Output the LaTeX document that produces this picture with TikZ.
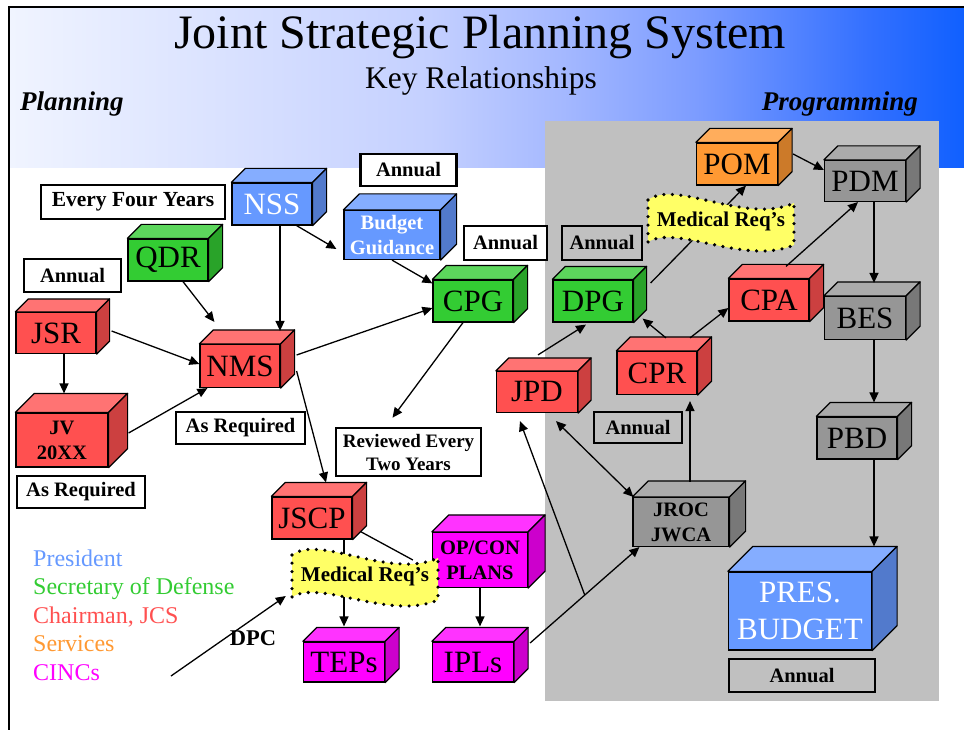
\documentclass[tikz,border=0pt]{standalone}
\usepackage{fontspec}
\setmainfont{Liberation Serif}
\usetikzlibrary{arrows.meta}

\definecolor{redF}{HTML}{FF5050}\definecolor{redT}{HTML}{FF7373}\definecolor{redS}{HTML}{CC4040}
\definecolor{bluF}{HTML}{6699FF}\definecolor{bluT}{HTML}{85ADFF}\definecolor{bluS}{HTML}{527ACC}
\definecolor{grnF}{HTML}{33CC33}\definecolor{grnT}{HTML}{5CD65C}\definecolor{grnS}{HTML}{29A329}
\definecolor{orgF}{HTML}{FF9933}\definecolor{orgT}{HTML}{FFAD5C}\definecolor{orgS}{HTML}{CC7A29}
\definecolor{gryF}{HTML}{969696}\definecolor{gryT}{HTML}{ABABAB}\definecolor{gryS}{HTML}{787878}
\definecolor{magF}{HTML}{FF00FF}\definecolor{magT}{HTML}{FF33FF}\definecolor{magS}{HTML}{CC00CC}
\definecolor{panel}{HTML}{C0C0C0}
\definecolor{medfill}{HTML}{FFFF66}
\definecolor{bandA}{HTML}{F0F4FF}\definecolor{bandB}{HTML}{C4D0FF}\definecolor{bandC}{HTML}{A4B8FF}
\definecolor{bandD}{HTML}{7C9CFF}\definecolor{bandE}{HTML}{3370FF}\definecolor{bandF}{HTML}{1060FF}

\pgfdeclarehorizontalshading{band}{100bp}{color(0bp)=(bandA); color(25bp)=(bandA);
  color(47bp)=(bandB); color(54bp)=(bandC); color(61bp)=(bandD); color(70bp)=(bandE);
  color(75bp)=(bandF); color(100bp)=(bandF)}

% top and side faces of a box: node, depth, colour family
\newcommand\cubesides[3]{%
  \filldraw[fill=#3T, line width=1.2pt, line join=round] (#1.north west) -- ++(#2,-#2)
    -- ([shift={(#2,-#2)}]#1.north east) -- (#1.north east) -- cycle;
  \filldraw[fill=#3S, line width=1.2pt, line join=round] (#1.north east) -- ++(#2,-#2)
    -- ([shift={(#2,-#2)}]#1.south east) -- (#1.south east) -- cycle;}

% dotted wave behind the medical tags
\newcommand\medwave[1]{%
  \begin{scope}[shift={(#1)}]
    \filldraw[medline] (-73,-21) .. controls (-45,-42) and (25,4) .. (73,-18)
      -- (73,24) .. controls (25,45) and (-45,3) .. (-73,21) -- cycle;
  \end{scope}}

\begin{document}
\begin{tikzpicture}[x=1pt, y=-1pt,
  cubebase/.style={draw, line width=1.2pt, inner sep=0pt, align=center,
                   font=\fontsize{31}{37}\selectfont},
  cube/.style n args={3}{cubebase, minimum width=#1, minimum height=#2, fill=#3F},
  small/.style={font=\bfseries\fontsize{20.5}{25}\selectfont},
  tag/.style 2 args={draw, line width=2.6pt, fill=white, inner sep=0pt, align=center,
                     minimum width=#1, minimum height=#2,
                     font=\bfseries\fontsize{20.5}{23}\selectfont},
  arr/.style={line width=1.3pt, -{Triangle[length=10pt,width=9pt]}},
  arrs/.style={line width=1.3pt, {Triangle[length=10pt,width=9pt]}-{Triangle[length=10pt,width=9pt]}},
  medline/.style={fill=medfill, draw=black, line width=3.6pt, line cap=round,
                  dash pattern=on 0pt off 8.5pt},
  medtext/.style={inner sep=0pt, minimum width=146, minimum height=44,
                  font=\bfseries\fontsize{21}{24}\selectfont},
  legend/.style={anchor=base west, inner sep=0pt, font=\fontsize{24}{24}\selectfont}
]
\useasboundingbox (0,0) rectangle (964,730);

% background
\shade[shading=band] (10,8) rectangle (964,168);
\fill[panel] (545,121) rectangle (939,701);
\draw[line width=1.5pt] (9,730) -- (9,7) -- (964,7);

\node[anchor=base, inner sep=0pt, font=\fontsize{48}{48}\selectfont] (title) at (480,49)
  {Joint Strategic Planning System};
\node[anchor=base, inner sep=0pt, font=\fontsize{31.5}{31.5}\selectfont] (subtitle) at (481,89)
  {Key Relationships};
\node[anchor=base west, inner sep=0pt, font=\bfseries\itshape\fontsize{27}{27}\selectfont]
  (plan) at (20,111) {Planning};
\node[anchor=base east, inner sep=0pt, font=\bfseries\itshape\fontsize{27}{27}\selectfont]
  (prog) at (918,111) {Programming};

% boxes
\node[cube={80}{42}{blu}, text=white] (nss) at (272,204) {NSS};
\cubesides{nss}{14}{blu}
\node[cube={80}{42}{grn}] (qdr) at (168,260) {QDR};
\cubesides{qdr}{14}{grn}
\node[cube={80}{41}{red}] (jsr) at (56,333) {JSR};
\cubesides{jsr}{13}{red}
\node[cube={80}{43}{red}] (nms) at (240,366) {NMS};
\cubesides{nms}{14}{red}
\node[cube={92}{54}{red}, small] (jv) at (62,440) {JV\\20XX};
\cubesides{jv}{19}{red}
\node[cube={96}{49}{blu}, small, text=white] (budget) at (392,235) {Budget\\Guidance};
\cubesides{budget}{16}{blu}
\node[cube={80}{42}{grn}] (cpg) at (473,301) {CPG};
\cubesides{cpg}{14}{grn}
\node[cube={80}{42}{grn}] (dpg) at (593,301) {DPG};
\cubesides{dpg}{13}{grn}
\node[cube={81}{42}{org}] (pom) at (737,164) {POM};
\cubesides{pom}{14}{org}
\node[cube={81}{41}{gry}] (pdm) at (865,181) {PDM};
\cubesides{pdm}{14}{gry}
\node[cube={80}{42}{red}] (cpa) at (769,300) {CPA};
\cubesides{cpa}{14}{red}
\node[cube={81}{43}{gry}] (bes) at (865,318) {BES};
\cubesides{bes}{14}{gry}
\node[cube={80}{43}{red}] (cpr) at (657,373) {CPR};
\cubesides{cpr}{14}{red}
\node[cube={81}{41}{red}] (jpd) at (537,392) {JPD};
\cubesides{jpd}{13}{red}
\node[cube={80}{42}{gry}] (pbd) at (857,438) {PBD};
\cubesides{pbd}{14}{gry}
\node[cube={96}{49}{gry}, small] (jroc) at (681,522) {JROC\\JWCA};
\cubesides{jroc}{16}{gry}
\node[cube={143}{78}{blu}, text=white] (pres) at (800,611) {PRES.\\BUDGET};
\cubesides{pres}{25}{blu}
\node[cube={80}{42}{red}] (jscp) at (312,518) {JSCP};
\cubesides{jscp}{14}{red}
\node[cube={95}{55}{mag}, small] (opcon) at (480,560) {OP/CON\\PLANS};
\cubesides{opcon}{17}{mag}
\node[cube={81}{40}{mag}] (teps) at (344,662) {TEPs};
\cubesides{teps}{14}{mag}
\node[cube={81}{40}{mag}] (ipls) at (473,662) {IPLs};
\cubesides{ipls}{14}{mag}

% tags
\node[tag={184}{34}, font=\bfseries\fontsize{21.5}{23}\selectfont] (four) at (133,202) {Every Four Years};
\node[tag={97}{33}] (annjsr) at (72.5,275.5) {Annual};
\node[tag={96}{32}] (annbg) at (408.5,170) {Annual};
\node[tag={128}{32}] (reqjv) at (81,492) {As Required};
\node[tag={129}{32}] (reqnms) at (240.5,428) {As Required};
\node[tag={145}{48}, font=\bfseries\fontsize{19}{23}\selectfont] (review) at (408.5,452)
  {Reviewed Every\\Two Years};
\node[tag={83}{34}] (anncpg) at (505.5,243) {Annual};
\node[tag={80}{34}, fill=panel] (anndpg) at (602,243) {Annual};
\node[tag={88}{31}, fill=panel] (anncpr) at (638,427.5) {Annual};
\node[tag={146}{33}, fill=panel] (annpb) at (802,675.5) {Annual};

% connectors
\draw[arr] ([xshift=8pt]nss.south) -- ([xshift=40pt,yshift=13pt]nms.north);
\draw[arr] ([xshift=-16pt]nss.south east) -- ([xshift=-7pt,yshift=-14pt]budget.west);
\draw[arr] ([xshift=15pt]qdr.south) -- ([xshift=15pt,yshift=22pt]nms.north west);
\draw[arr] ([xshift=15pt,yshift=2pt]jsr.east) -- ([yshift=2pt]nms.west);
\draw[arr] ([xshift=8pt]jsr.south) -- ([xshift=2pt,yshift=19pt]jv.north);
\draw[arr] ([xshift=20pt,yshift=7pt]jv.east) -- ([xshift=8pt]nms.south west);
\draw[arr] ([xshift=16pt,yshift=11pt]nms.east) -- ([yshift=-7pt]cpg.west);
\draw[arr] (budget.south) -- ([yshift=-4pt]cpg.north west);
\draw[arr] ([xshift=-10pt]cpg.south) -- ([xshift=-16pt,yshift=9pt]review.north);
\draw[arr] ([xshift=16pt,yshift=-5pt]nms.east) -- ([xshift=14pt,yshift=14pt]jscp.north);
\draw[arr] ([xshift=32pt]jscp.south) -- ([yshift=15pt]teps.north);
\draw[line width=1.3pt] ([xshift=8pt,yshift=8pt]jscp.south east) -- ([xshift=-19pt]opcon.west);
\draw[arr] (opcon.south) -- ([xshift=7pt,yshift=15pt]ipls.north);
\draw[arr] ([xshift=16pt,yshift=19pt]ipls.east) -- coordinate[pos=0.5] (fork)
  ([xshift=7pt]jroc.south west);
\draw[arr] (fork) -- ([xshift=-17pt,yshift=-8pt]jpd.south);
\draw[arrs] ([xshift=19pt,yshift=-8pt]jpd.south) -- ([xshift=1pt]jroc.north west);
\draw[arr] ([xshift=9pt,yshift=15pt]jroc.north) -- ([xshift=33pt,yshift=-6pt]cpr.south);
\draw[arr] ([xshift=1pt,yshift=16pt]jpd.north) -- ([xshift=-7pt,yshift=-2pt]dpg.south);
\draw[arr] ([xshift=9pt,yshift=13pt]cpr.north) -- ([xshift=9pt,yshift=4pt]dpg.south east);
\draw[arr] ([xshift=33pt,yshift=13pt]cpr.north) -- ([yshift=-8pt]cpa.west);
\draw[arr] ([xshift=17pt,yshift=18pt]dpg.east) -- ([xshift=9pt]pom.south);
\draw[arr] ([xshift=17pt,yshift=12pt]cpa.north) -- ([xshift=-7pt]pdm.south);
\draw[arr] ([xshift=15pt,yshift=10pt]pom.east) -- ([yshift=11pt]pdm.west);
\draw[arr] ([xshift=9pt]pdm.south) -- ([xshift=9pt,yshift=13pt]bes.north);
\draw[arr] ([xshift=9pt]bes.south) -- ([xshift=17pt,yshift=14pt]pbd.north);
\draw[arr] ([xshift=17pt]pbd.south) -- ([xshift=74pt,yshift=25pt]pres.north);

% medical requirements
\medwave{721,221}
\node[medtext] (meda) at (721,221) {Medical Req’s};
\medwave{365,576}
\node[medtext] (medb) at (365,576) {Medical Req’s};

\coordinate (dpcfoot) at (171,676);
\draw[arr] (dpcfoot) -- ([xshift=-6pt,yshift=-20pt]medb.west);
\node[anchor=base, inner sep=0pt, font=\bfseries\fontsize{22.5}{22.5}\selectfont] (dpc) at (253,645) {DPC};

% legend
\node[legend, text=bluF] (lpres) at (33,566) {President};
\node[legend, text=grnF] (lsec) at (33,594.5) {Secretary of Defense};
\node[legend, text=redF] (lcjcs) at (33,623) {Chairman, JCS};
\node[legend, text=orgF] (lserv) at (33,651.5) {Services};
\node[legend, text=magF] (lcinc) at (33,680) {CINCs};
\end{tikzpicture}
\end{document}
